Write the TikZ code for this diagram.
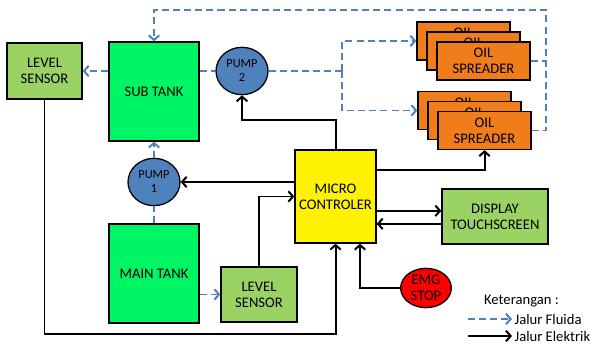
\documentclass[tikz,border=0pt]{standalone}
\usepackage{fontspec}
\setmainfont{Carlito}
\usepackage{xcolor}
\usetikzlibrary{arrows.meta, shapes.geometric}

\definecolor{sensorgreen}{RGB}{155,210,100}
\definecolor{tankgreen}{RGB}{0,245,100}
\definecolor{pumpblue}{RGB}{79,129,189}
\definecolor{oilorange}{RGB}{240,125,25}
\definecolor{flowblue}{RGB}{79,129,189}

\begin{document}
\begin{tikzpicture}[x=0.03cm, y=-0.03cm,
    box/.style={draw, line width=1.1pt, align=center, inner sep=0pt, font=\fontsize{12.5}{13.5}\selectfont},
    pumpnode/.style={draw, line width=1.1pt, ellipse, fill=pumpblue, align=center, inner sep=0pt,
        minimum width=1.56cm, minimum height=1.42cm, font=\fontsize{10.5}{12}\selectfont},
    oilbox/.style={box, fill=oilorange, minimum width=2.79cm, minimum height=1.14cm},
    fluidline/.style={draw=flowblue, line width=1.7pt, dash pattern=on 6pt off 3.5pt},
    fluid/.style={fluidline, -{Straight Barb[length=4pt,width=9pt]}},
    elec/.style={draw=black, line width=1.7pt, -{Straight Barb[length=4pt,width=9pt]}}]

    \useasboundingbox (0,0) rectangle (593,347);

    % Level Sensor (left)
    \node[box, fill=sensorgreen, minimum width=2.25cm, minimum height=1.68cm] (lsL) at (44.5,71) {LEVEL\\SENSOR};

    % Sub Tank
    \node[box, fill=tankgreen, minimum width=2.7cm, minimum height=2.97cm] (sub) at (154,91.5) {SUB TANK};

    % Main Tank
    \node[box, fill=tankgreen, minimum width=2.7cm, minimum height=2.97cm] (main) at (154,273.5) {MAIN TANK};

    % Level Sensor (bottom)
    \node[box, fill=sensorgreen, minimum width=2.28cm, minimum height=1.65cm] (lsB) at (259,294.5) {LEVEL\\SENSOR};

    % Pumps
    \node[pumpnode] (pump2) at (242,71) {PUMP\\2};
    \node[pumpnode] (pump1) at (154,182) {PUMP\\1};

    % Micro Controler
    \node[box, fill=yellow, minimum width=2.43cm, minimum height=2.79cm] (mcu) at (335.5,196.5) {MICRO\\CONTROLER};

    % Display Touchscreen
    \node[box, fill=sensorgreen, minimum width=3.18cm, minimum height=1.65cm] (disp) at (495,216.5) {DISPLAY\\TOUCHSCREEN};

    % Emergency Stop
    \node[box, ellipse, fill=red, minimum width=1.52cm, minimum height=1.18cm] (emg) at (426,288) {EMG\\STOP};

    % Oil Spreaders (upper group)
    \node[oilbox] (oil1a) at (463.5,41) {OIL\\\phantom{SPREADER}};
    \node[oilbox] (oil1b) at (473.5,51) {OIL\\\phantom{SPREADER}};
    \node[oilbox] (oil1c) at (483.5,61) {OIL\\SPREADER};

    % Oil Spreaders (lower group)
    \node[oilbox] (oil2a) at (464.5,110.5) {OIL\\\phantom{SPREADER}};
    \node[oilbox] (oil2b) at (474.5,120.5) {OIL\\\phantom{SPREADER}};
    \node[oilbox] (oil2c) at (484.5,130.5) {OIL\\SPREADER};

    % Fluid lines
    \draw[fluid] (sub.west |- lsL.east) -- (lsL.east);
    \draw[fluidline] (sub.east |- pump2) -- (pump2.west);
    \coordinate (split) at (342,71);
    \draw[fluidline] (pump2.east) -- (split);
    \draw[fluid] (split) |- (oil1a.west);
    \draw[fluid] (split) |- (oil2a.west);
    \coordinate (ret) at (546,10);
    \draw[fluid] (oil2c.east) -| (ret) -| (sub.north);
    \draw[fluidline] (oil1c.east) -- (oil1c.east -| ret);
    \draw[fluid] (pump1.north) -- (sub.south);
    \draw[fluidline] (main.north) -- (pump1.south);
    \draw[fluid] (main.east |- lsB.west) -- (lsB.west);

    % Electric lines
    \draw[elec] (mcu.west |- pump1.east) -- (pump1.east);
    \draw[elec] (mcu.north) -- ++(0,-29) -| (pump2.south);
    \draw[elec] ([yshift=-0.63cm]mcu.north east) -| (oil2c.south);
    \draw[elec] (lsB.north) |- (mcu.west);
    \path ([yshift=0.17cm]disp.west) coordinate (d1) ([yshift=-0.22cm]disp.west) coordinate (d2);
    \draw[elec] (mcu.east |- d1) -- (d1);
    \draw[elec] (d2) -- (mcu.east |- d2);
    \draw[elec] (emg.west) -| ([xshift=-0.5cm]mcu.south east);
    \draw[elec] (lsL.south) -- ++(0,234) -| (mcu.south);

    % Legend
    \node[anchor=west, font=\fontsize{12.5}{13.5}\selectfont] (legend) at (480,301) {Keterangan :};
    \coordinate (fa) at (468,319);
    \coordinate (fb) at (512,319);
    \coordinate (ea) at (468,336);
    \coordinate (eb) at (512,336);
    \draw[fluid] (fa) -- (fb);
    \draw[elec] (ea) -- (eb);
    \node[anchor=west, inner sep=2pt, font=\fontsize{12.5}{13.5}\selectfont] (lfluid) at (fb) {Jalur Fluida};
    \node[anchor=west, inner sep=2pt, font=\fontsize{12.5}{13.5}\selectfont] (lelec) at (eb) {Jalur Elektrik};

\end{tikzpicture}
\end{document}
